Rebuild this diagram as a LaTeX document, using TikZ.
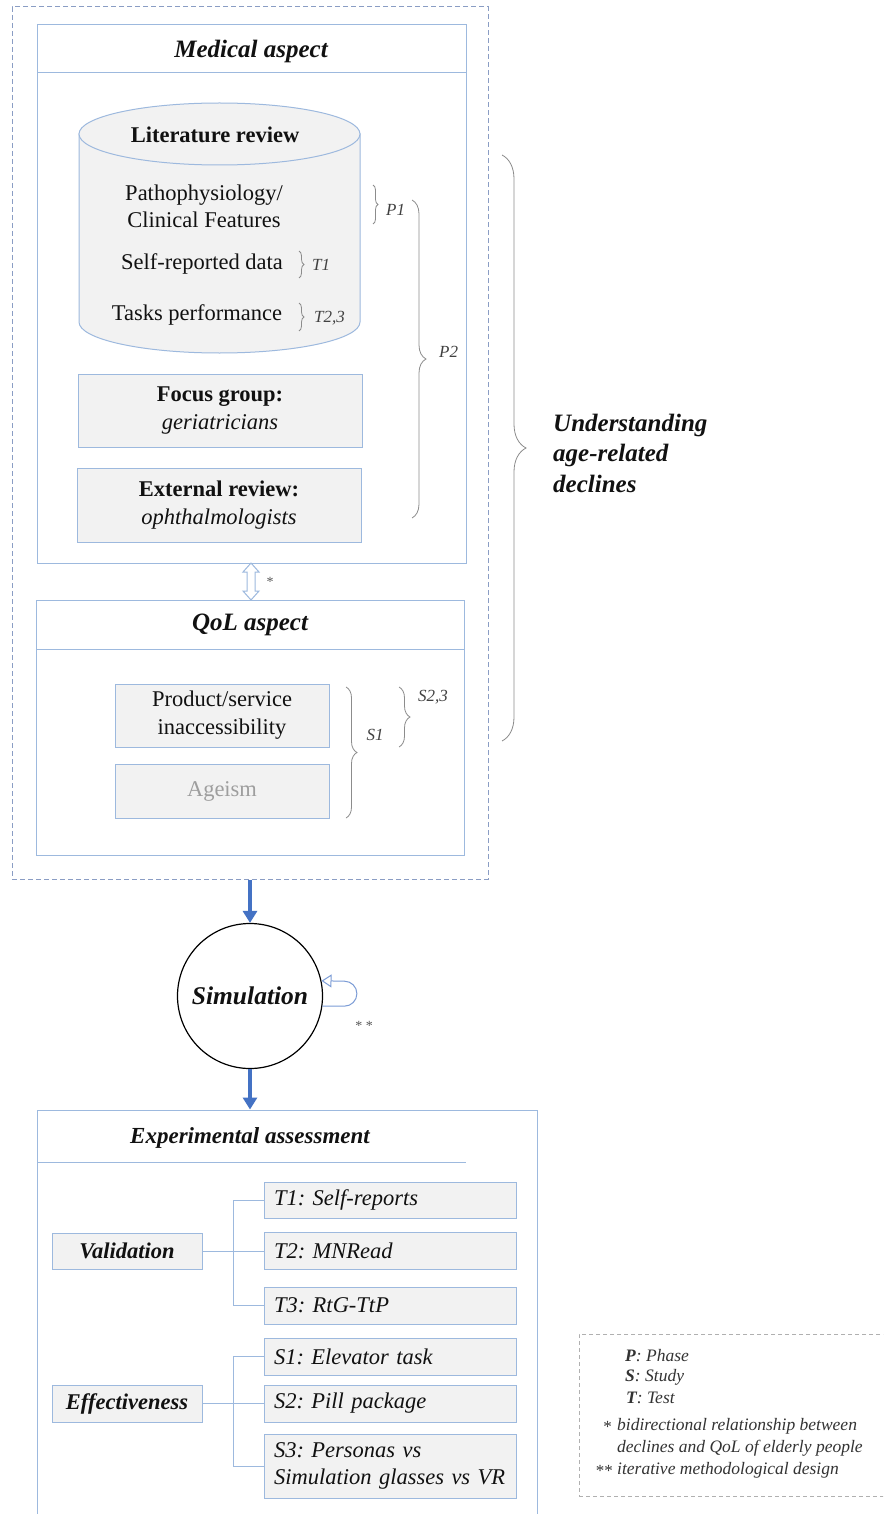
\documentclass[tikz,border=0pt]{standalone}
\usepackage{fontspec}
\setmainfont{Liberation Serif}
\usetikzlibrary{arrows.meta,decorations.pathreplacing,calc}
\definecolor{bordblue}{HTML}{9DB9DE}
\definecolor{dashblue}{HTML}{8A9DC4}
\definecolor{arrblue}{HTML}{4472C4}
\definecolor{boxfill}{HTML}{F2F2F2}
\definecolor{bracegray}{HTML}{8C8C8C}
\definecolor{txt}{HTML}{111111}
\definecolor{legtxt}{HTML}{333333}
\definecolor{leggray}{HTML}{B0B0B0}
\newcommand\myfs[2]{\fontsize{#1}{#2}\selectfont}
\frenchspacing
\begin{document}
\begin{tikzpicture}[x=1pt,y=-1pt,
 frame/.style={draw=bordblue, line width=1pt, inner sep=0pt},
 gbox/.style={draw=bordblue, fill=boxfill, line width=1pt, inner sep=0pt, align=center, text=txt, font=\myfs{22.5}{28}},
 tbox/.style={draw=bordblue, fill=boxfill, line width=1pt, inner xsep=10pt, inner ysep=0pt, text width=232pt, align=left, text=txt, font=\myfs{22.5}{27}\itshape},
 lbox/.style={draw=bordblue, fill=boxfill, line width=1pt, inner sep=0pt, minimum width=150pt, text=txt, font=\myfs{22.5}{24}\bfseries\itshape},
 hdr/.style={draw=bordblue, line width=1pt},
 ttl/.style={text=txt, font=\myfs{25}{28}\bfseries\itshape},
 brc/.style={decorate, decoration={brace, amplitude=#1}, draw=bracegray, line width=0.8pt},
 blbl/.style={text=txt!80, font=\myfs{17}{20}\itshape, inner sep=0pt},
 conn/.style={draw=bordblue, line width=1pt},
 bigarrow/.style={draw=arrblue, line width=3.5pt, -{Triangle[length=12pt, width=14pt]}},
 plain/.style={text=txt, font=\myfs{22.5}{27}, align=center, inner sep=0pt},
]
\clip (0,0) rectangle (883,1514);
\fill[white] (0,0) rectangle (883,1514);

% outer dashed container
\node[draw=dashblue, dash pattern=on 5pt off 3pt, line width=1pt, minimum width=476pt, minimum height=872pt, inner sep=0pt] (outer) at (250,443) {};

% Medical aspect
\node[frame, minimum width=429pt, minimum height=538pt] (med) at (251.5,294) {};
\draw[hdr] (37,73) -- (466,73);
\node[ttl] (medt) at (251,51) {Medical aspect};

% cylinder
\filldraw[draw=bordblue, fill=boxfill, line width=1pt] (79,134) -- (79,322) arc[start angle=180, end angle=360, x radius=140.5pt, y radius=31pt] -- (360,134) -- cycle;
\filldraw[draw=bordblue, fill=boxfill, line width=1pt] (219.5,134) ellipse[x radius=140.5pt, y radius=31pt];
\node[plain, font=\myfs{22.5}{27}\bfseries] (lit) at (215,135) {Literature review};
\node[plain] (patho) at (204,206) {Pathophysiology/\\Clinical Features};
\node[plain] (self) at (202,264) {Self-reported data};
\node[plain] (tasks) at (197,315) {Tasks performance};

% small braces
\draw[brc=5pt] (373,185) -- (373,224);
\node[blbl, anchor=west] (p1) at (386,210) {P1};
\draw[brc=5pt] (299,251) -- (299,278);
\node[blbl, anchor=west] (t1l) at (312,265) {T1};
\draw[brc=5pt] (299,303) -- (299,331);
\node[blbl, anchor=west] (t23l) at (314,318) {T2,3};
\draw[brc=14pt] (412,200) -- (412,518);
\node[blbl, anchor=west] (p2) at (439,352) {P2};

% boxes
\node[gbox, minimum width=284pt, minimum height=73pt] (fg) at (220,410.5) {{\bfseries Focus group:}\\{\itshape geriatricians}};
\node[gbox, minimum width=284pt, minimum height=74pt] (er) at (219,505) {{\bfseries External review:}\\{\itshape ophthalmologists}};

% double hollow arrow
\filldraw[draw=bordblue, fill=white, line width=1pt] (251,563) -- (259,572) -- (255,572) -- (255,591) -- (259,591) -- (251,600) -- (243,591) -- (247,591) -- (247,572) -- (243,572) -- cycle;
\node[text=txt!70, font=\myfs{14}{16}, inner sep=0pt] (star1) at (270,582) {*};

% QoL aspect
\node[frame, minimum width=428pt, minimum height=255pt] (qol) at (250,727.5) {};
\draw[hdr] (36,649) -- (464,649);
\node[ttl] (qolt) at (250,625) {QoL aspect};
\node[gbox, minimum width=214pt, minimum height=63pt] (ps) at (222,715.5) {Product/service\\inaccessibility};
\node[gbox, minimum width=214pt, minimum height=54pt, text=black!38] (ag) at (222,791) {Ageism};
\draw[brc=11pt] (346,687) -- (346,818);
\node[blbl] (s1l) at (375,735) {S1};
\draw[brc=11pt] (399,687) -- (399,747);
\node[blbl] (s23l) at (433,697) {S2,3};

% big brace
\draw[brc=24pt] (502,155) -- (502,741);
\node[anchor=west, align=left, text=txt, font=\myfs{25}{30.5}\bfseries\itshape, inner sep=0pt] (und) at (553,453) {Understanding\\age-related\\declines};

% Simulation
\node[circle, draw=black, line width=1.2pt, minimum size=145pt, inner sep=0pt, text=txt, font=\myfs{25.5}{28}\bfseries\itshape] (sim) at (250,996) {Simulation};
\draw[bigarrow] (outer.south) -- (sim.north);
\draw[draw=arrblue!70, line width=1pt, -{Triangle[open, length=10pt, width=13pt]}] (sim.-8) -- ++(22pt,0) arc[start angle=-90, end angle=90, radius=12.5pt] -- (sim.12);
\node[text=txt!70, font=\myfs{14}{16}, inner sep=0pt] (star2) at (364,1026) {* *};

% Experimental assessment
\node[frame, minimum width=500pt, minimum height=420pt] (exp) at (287,1320) {};
\draw[bigarrow] (sim.south) -- (sim.south |- exp.north);
\draw[hdr] (37,1162) -- (466,1162);
\node[ttl, font=\myfs{23}{26}\bfseries\itshape] (expt) at (250,1138) {Experimental assessment};

\node[lbox, minimum height=36pt] (val) at (127,1251) {Validation};
\node[lbox, minimum height=37pt] (eff) at (127,1403.5) {Effectiveness};

\node[tbox, minimum height=36pt] (t1) at (390,1200) {T1: Self-reports};
\node[tbox, minimum height=37pt] (t2) at (390,1251) {T2: MNRead};
\node[tbox, minimum height=37pt] (t3) at (390,1305.5) {T3: RtG-TtP};
\node[tbox, minimum height=37pt] (s1) at (390,1356.5) {S1: Elevator task};
\node[tbox, minimum height=37pt] (s2) at (390,1403.5) {S2: Pill package};
\node[tbox, minimum height=64pt] (s3) at (390,1466) {S3: Personas vs\\Simulation glasses vs VR};

\coordinate (vf) at (233,1251);
\coordinate (ef) at (233,1403.5);
\draw[conn] (val.east) -- (t2.west);
\draw[conn] (t1.west) -- (t1.west -| vf) -- (t3.west -| vf) -- (t3.west);
\draw[conn] (eff.east) -- (s2.west);
\draw[conn] (s1.west) -- (s1.west -| ef) -- (s3.west -| ef) -- (s3.west);

% legend
\node[draw=leggray, dash pattern=on 4pt off 3pt, line width=0.8pt, minimum width=311pt, minimum height=162pt, inner sep=0pt] (leg) at (734.5,1415) {};
\node[anchor=west, inner sep=0pt, text=legtxt, font=\myfs{17.5}{20}\itshape] (lp) at (625,1356) {\textbf{P}: Phase};
\node[anchor=west, inner sep=0pt, text=legtxt, font=\myfs{17.5}{20}\itshape] (ls) at (625,1377) {\textbf{S}: Study};
\node[anchor=west, inner sep=0pt, text=legtxt, font=\myfs{17.5}{20}\itshape] (lt) at (626,1398) {\textbf{T}: Test};
\node[anchor=north west, inner sep=0pt, align=left, text=legtxt, font=\myfs{17.5}{22}\itshape] (lb) at (617,1418) {bidirectional relationship between\\declines and QoL of elderly people};
\node[anchor=east, inner sep=0pt, text=legtxt, font=\myfs{17}{20}] (la) at (612,1427) {*};
\node[anchor=west, inner sep=0pt, text=legtxt, font=\myfs{17.5}{20}\itshape] (li) at (617,1470) {iterative methodological design};
\node[anchor=east, inner sep=0pt, text=legtxt, font=\myfs{17}{20}] (laa) at (613,1471) {**};
\end{tikzpicture}
\end{document}
